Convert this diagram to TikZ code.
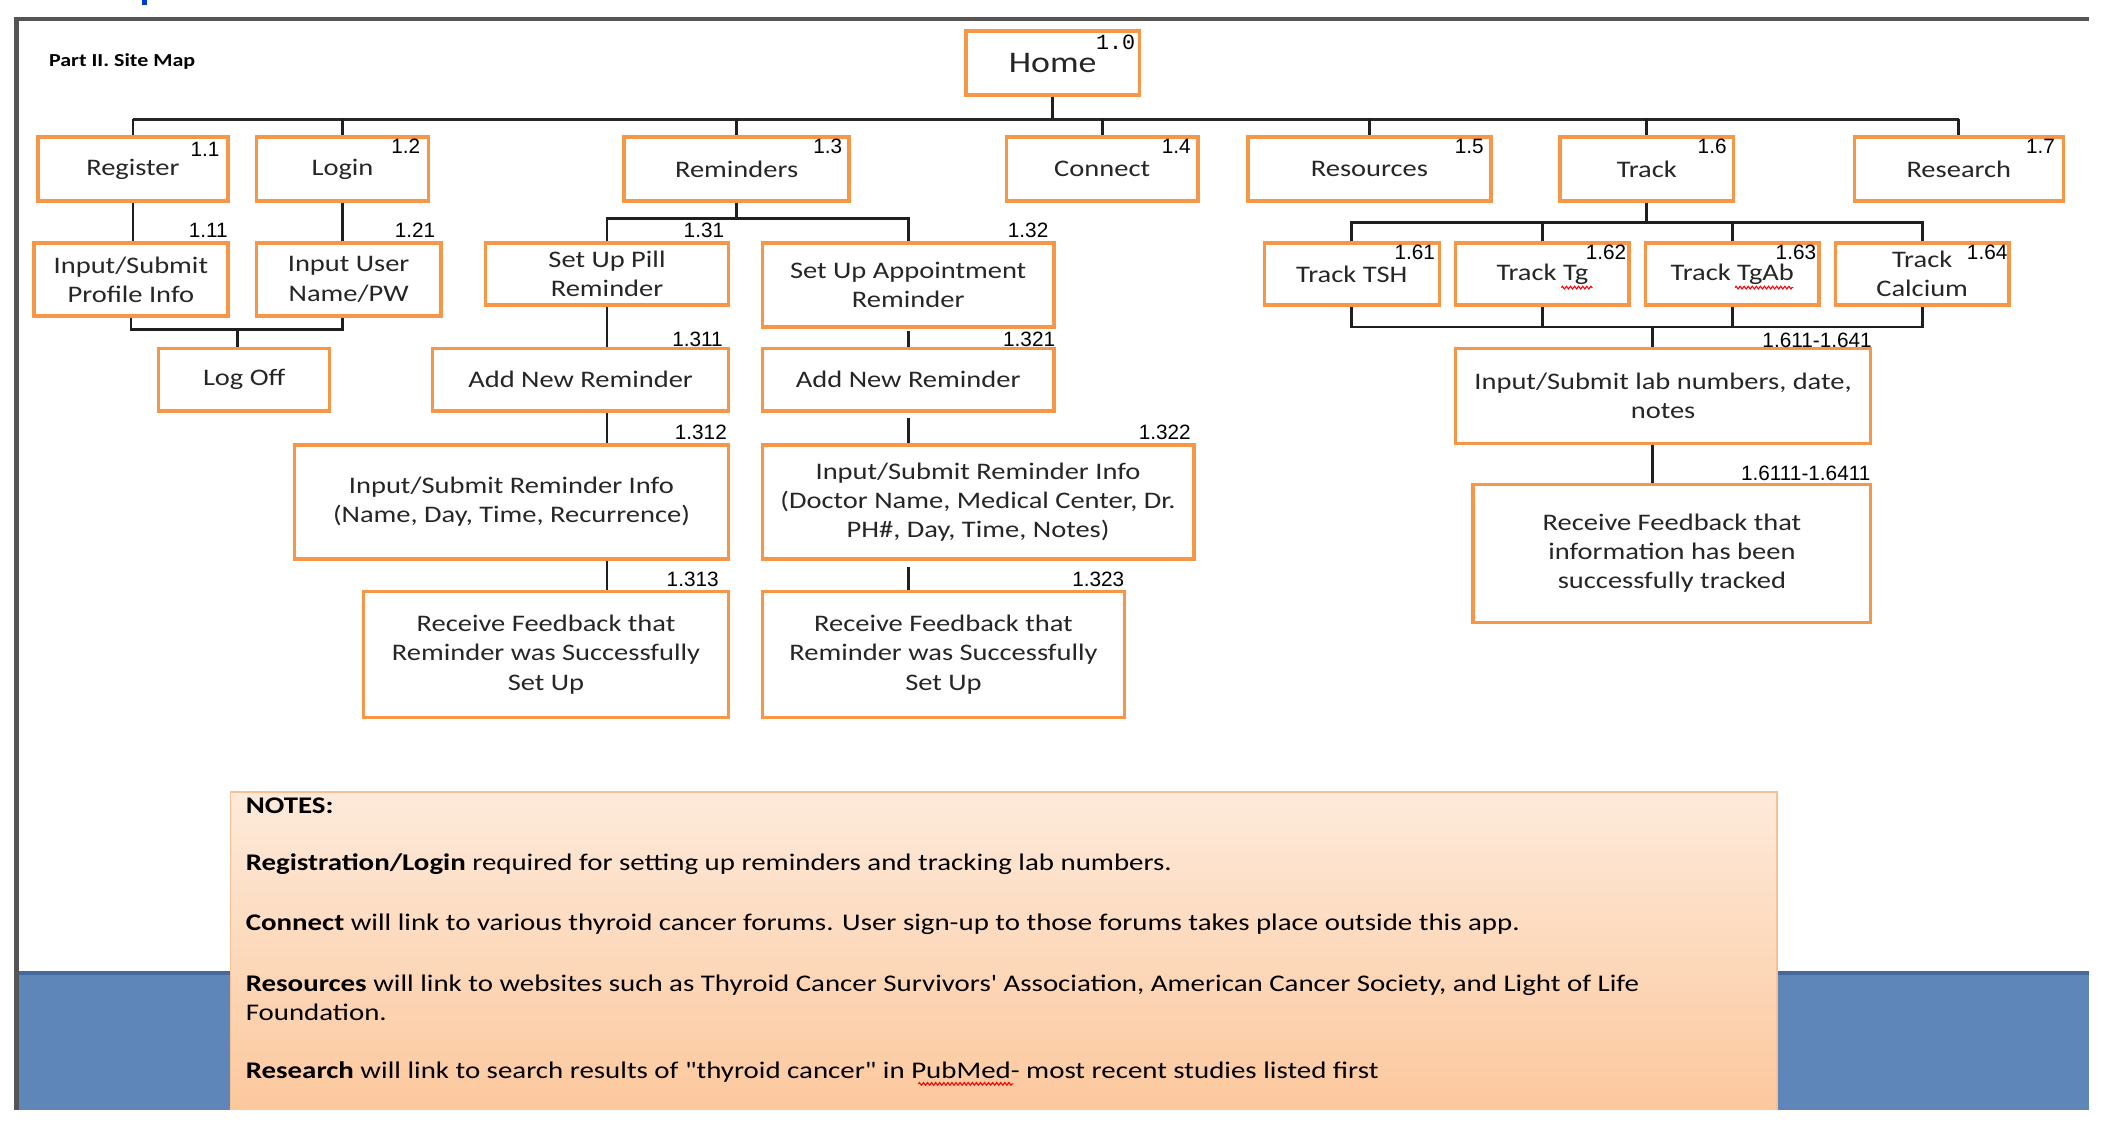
\documentclass[tikz,border=0pt]{standalone}
\usepackage{fontspec}
\setmainfont{Carlito}[FakeStretch=1.2]
\newfontfamily\numfont{Liberation Sans}
\newfontfamily\monofont{Liberation Mono}
\newfontfamily\notefont{Carlito}[FakeStretch=1.21]
\usetikzlibrary{decorations.pathmorphing}
\definecolor{orangeB}{HTML}{F79646}
\definecolor{frameC}{HTML}{555555}
\definecolor{blueB}{HTML}{5E86B9}
\definecolor{blueD}{HTML}{45699A}
\definecolor{noteTop}{HTML}{FDEADB}
\definecolor{noteBot}{HTML}{FCC89D}
\definecolor{noteEdge}{HTML}{F9C094}
\definecolor{txt}{HTML}{262626}
\begin{document}
\begin{tikzpicture}[x=1pt,y=-1pt,
  box/.style={draw=orangeB, line width=2.6pt, fill=white, inner sep=2pt, align=center,
    font=\fontsize{17.5}{21.5}\selectfont, text=txt},
  conn/.style={line width=2pt, draw=black!88},
  bus/.style={line width=2.6pt, draw=black!85},
  num/.style={font=\numfont\fontsize{15.3}{15.3}\selectfont, inner sep=0pt, anchor=east},
  squig/.style={draw=red, line width=0.8pt, decorate, decoration={zigzag, amplitude=1pt, segment length=3pt}},
  note/.style={font=\notefont\fontsize{17.6}{21}\selectfont, inner sep=0pt, anchor=west, align=left}]
\useasboundingbox (0,0) rectangle (1568,838);
\fill[white] (0,0) rectangle (1568,838);
% frame and background
\fill[blueB] (12,716) rectangle (1540,818);
\fill[blueD] (12,716) rectangle (1540,719);
\draw[frameC, line width=3.5pt] (12,818) -- (12,14) -- (1540,14);
\fill[blue!70!cyan!80!black] (105,0) rectangle (108,4);
% notes box
\shade[top color=noteTop, bottom color=noteBot] (170,584) rectangle (1310,818);
\draw[noteEdge, line width=1.2pt] (170,818) -- (170,584) -- (1310,584) -- (1310,818);
% title
\node[inner sep=0pt, anchor=west, font=\bfseries\fontsize{13.5}{14}\selectfont] (title) at (36,45) {Part II. Site Map};
% level 0
\node[box, minimum width=128, minimum height=47, font=\fontsize{22}{24}\selectfont] (home) at (776,46.5) {Home};
% level 1
\node[box, minimum width=140, minimum height=47] (reg) at (98,124.5) {Register};
\node[box, minimum width=127, minimum height=47] (login) at (252.5,124.5) {Login};
\node[box, minimum width=166, minimum height=47] (rem) at (543,124.5) {Reminders};
\node[box, minimum width=141, minimum height=47] (con) at (812.5,124.5) {Connect};
\node[box, minimum width=179, minimum height=47] (res) at (1009.5,124.5) {Resources};
\node[box, minimum width=128, minimum height=47] (track) at (1214,124.5) {Track};
\node[box, minimum width=154, minimum height=47] (rsch) at (1444,124.5) {Research};
% level 2
\node[box, minimum width=143, minimum height=54] (prof) at (96.5,206) {Input/Submit\\Profile Info};
\node[box, minimum width=136, minimum height=54] (user) at (257,206) {Input User\\Name/PW};
\node[box, minimum width=126, minimum height=46] (logoff) at (180,280) {Log Off};
\node[box, minimum width=179, minimum height=46] (pill) at (447.5,202) {Set Up Pill\\Reminder};
\node[box, minimum width=215, minimum height=62] (appt) at (669.5,210) {Set Up Appointment\\Reminder};
\node[box, minimum width=218, minimum height=46] (add1) at (428,280) {Add New Reminder};
\node[box, minimum width=215, minimum height=46] (add2) at (669.5,280) {Add New Reminder};
\node[box, minimum width=320, minimum height=84] (info1) at (377,370) {Input/Submit Reminder Info\\(Name, Day, Time, Recurrence)};
\node[box, minimum width=318, minimum height=84] (info2) at (721,370) {Input/Submit Reminder Info\\(Doctor Name, Medical Center, Dr.\\PH\#, Day, Time, Notes)};
\node[box, minimum width=269, minimum height=93] (fb1) at (402.5,482.5) {Receive Feedback that\\Reminder was Successfully\\Set Up};
\node[box, minimum width=267, minimum height=93] (fb2) at (695.5,482.5) {Receive Feedback that\\Reminder was Successfully\\Set Up};
\node[box, minimum width=129, minimum height=46] (tsh) at (996.5,202) {Track TSH};
\node[box, minimum width=128, minimum height=46] (tg) at (1137,202) {Track Tg};
\node[box, minimum width=128, minimum height=46] (tgab) at (1277,202) {Track TgAb};
\node[box, minimum width=128, minimum height=46] (calc) at (1417,202) {Track\\Calcium};
\node[box, minimum width=306, minimum height=70] (lab) at (1226,292) {Input/Submit lab numbers, date,\\notes};
\node[box, minimum width=293, minimum height=102] (fbt) at (1232.5,408) {Receive Feedback that\\information has been\\successfully tracked};
% numbers
\node[inner sep=0pt, anchor=east, font=\monofont\fontsize{16}{16}\selectfont] (n10) at (837,31) {1.0};
\node[num] (n11) at (162,110) {1.1};
\node[num] (n12) at (310,108) {1.2};
\node[num] (n13) at (621,108) {1.3};
\node[num] (n14) at (878,108) {1.4};
\node[num] (n15) at (1094,108) {1.5};
\node[num] (n16) at (1273,108) {1.6};
\node[num] (n17) at (1515,108) {1.7};
\node[num] (n111) at (168,170) {1.11};
\node[num] (n121) at (321,170) {1.21};
\node[num] (n131) at (534,170) {1.31};
\node[num] (n132) at (773,170) {1.32};
\node[num] (n1311) at (533,250) {1.311};
\node[num] (n1321) at (778,250) {1.321};
\node[num] (n1312) at (536,319) {1.312};
\node[num] (n1322) at (878,319) {1.322};
\node[num] (n1313) at (530,427) {1.313};
\node[num] (n1323) at (829,427) {1.323};
\node[num] (n161) at (1058,186) {1.61};
\node[num] (n162) at (1199,186) {1.62};
\node[num] (n163) at (1339,186) {1.63};
\node[num] (n164) at (1480,186) {1.64};
\node[num] (n1611) at (1380,251) {1.611-1.641};
\node[num] (n16111) at (1379,349) {1.6111-1.6411};
% connectors
\coordinate (b1) at (776,88);
\draw[bus] (reg.north |- b1) -- (rsch.north |- b1);
\draw[conn] (home.south) -- (b1);
\foreach \n in {reg,login,rem,con,res,track,rsch} \draw[conn] (\n.north |- b1) -- (\n.north);
\draw[conn] (reg.south) -- (reg.south |- prof.north);
\draw[conn] (login.south) -- (login.south |- user.north);
\coordinate (lo) at (175,243);
\draw[conn] (prof.south) |- (lo) -| (login.south |- user.south);
\draw[conn] (lo) -- (lo |- logoff.north);
\coordinate (rb) at (541,161);
\draw[conn] (rem.south) -- (rem.south |- rb);
\draw[conn] (pill.north) |- (rb) -| (appt.north);
\draw[conn] (pill.south) -- (pill.south |- add1.north);
\draw[conn] (pill.south |- add1.south) -- (pill.south |- info1.north);
\draw[conn] (pill.south |- info1.south) -- (pill.south |- fb1.north);
\draw[conn] ([yshift=-2]appt.south) -- (appt.south |- add2.north);
\draw[conn] ([yshift=-4]appt.south |- add2.south) -- (appt.south |- info2.north);
\draw[conn] ([yshift=-5]appt.south |- info2.south) -- (appt.south |- fb2.north);
\coordinate (tb) at (1213,164);
\draw[conn] (track.south) -- (track.south |- tb);
\draw[conn] (tsh.north) |- (tb) -| (calc.north);
\draw[conn] (tg.north) -- (tg.north |- tb);
\draw[conn] (tgab.north) -- (tgab.north |- tb);
\coordinate (tb2) at (1218,241);
\draw[conn] (tsh.south) |- (tb2) -| (calc.south);
\draw[conn] (tg.south) -- (tg.south |- tb2);
\draw[conn] (tgab.south) -- (tgab.south |- tb2);
\draw[conn] (tb2) -- (tb2 |- lab.north);
\draw[conn] (tb2 |- lab.south) -- (tb2 |- fbt.north);
% notes text
\node[note, font=\notefont\bfseries\fontsize{17.6}{21}\selectfont] (nt0) at (181,594) {NOTES:};
\node[note] (nt1) at (181,637) {\textbf{Registration/Login} required for setting up reminders and tracking lab numbers.};
\node[note] (nt2) at (181,681) {\textbf{Connect} will link to various thyroid cancer forums. User sign-up to those forums takes place outside this app.};
\node[note] (nt3) at (181,735.5) {\textbf{Resources} will link to websites such as Thyroid Cancer Survivors' Association, American Cancer Society, and Light of Life\\Foundation.};
\node[note] (nt4) at (181,790) {\textbf{Research} will link to search results of "thyroid cancer" in PubMed- most recent studies listed first};
% spell-check squiggles
\draw[squig] (1151,212) -- (1174,212);
\draw[squig] (1279,212) -- (1322,212);
\draw[squig] (677,799) -- (747,799);
\end{tikzpicture}
\end{document}
